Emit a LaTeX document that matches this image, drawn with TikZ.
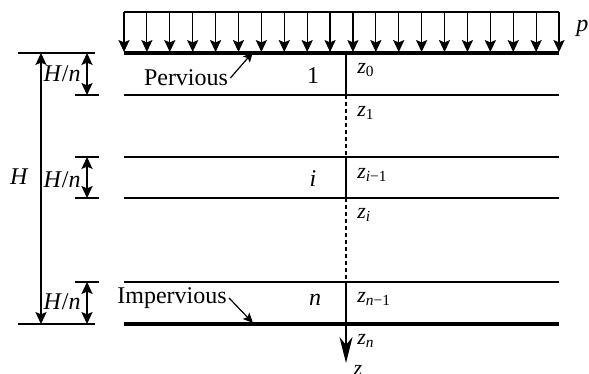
\documentclass[tikz,border=0pt]{standalone}
\usepackage{fontspec}
\setmainfont{Liberation Serif}
\usepackage{tikz}
\usetikzlibrary{arrows.meta,positioning}

\begin{document}
\begin{tikzpicture}[
    x=0.5pt, y=-0.5pt,
    font=\fontsize{12}{14}\selectfont,
    layer/.style={line width=0.6pt},
    surface/.style={line width=1.6pt},
    load/.style={-{Stealth[length=6pt,width=5.6pt,inset=1.2pt]}, line width=0.6pt},
    dim/.style={{Stealth[length=6pt,width=5.6pt,inset=1.2pt]}-{Stealth[length=6pt,width=5.6pt,inset=1.2pt]}, line width=0.6pt},
    pointer/.style={-{Stealth[length=5pt,width=4.5pt,inset=1pt]}, line width=0.6pt},
    gap/.style={line width=0.6pt, dash pattern=on 2pt off 1.5pt},
    axis/.style={-{Stealth[length=13pt,width=6.5pt,inset=4pt]}, line width=0.6pt},
    zlabel/.style={anchor=west, inner sep=0, font=\fontsize{11}{13}\selectfont}
]
\useasboundingbox (0,0) rectangle (589,374);

% Load
\draw[layer] (124,12) -- (559,12);
\foreach \i in {0,...,19}
    \draw[load] ({124+\i*22.895},12) -- ({124+\i*22.895},52);
\node[anchor=west, inner sep=0] (p) at (576,28) {\textit{p}};

% Layers
\draw[surface] (124,53) -- (559,53);
\foreach \y in {95,157,198,282}
    \draw[layer] (124,\y) -- (559,\y);
\draw[surface] (124,324) -- (559,324);

% Dimensions
\draw[layer] (18,53) -- (95,53);
\draw[layer] (18,324) -- (95,324);
\foreach \y in {95,157,198,282}
    \draw[layer] (75,\y) -- (99,\y);
\coordinate (Htop) at (41,53);
\coordinate (Hbot) at (41,324);
\draw[dim] (Htop) -- (Hbot);
\node[anchor=east, inner sep=0] (H) at (29,177) {\textit{H}};

\coordinate (d1a) at (87,53);
\coordinate (d1b) at (87,95);
\coordinate (d2a) at (87,157);
\coordinate (d2b) at (87,198);
\coordinate (d3a) at (87,282);
\coordinate (d3b) at (87,324);
\draw[dim] (d1a) -- (d1b);
\draw[dim] (d2a) -- (d2b);
\draw[dim] (d3a) -- (d3b);
\node[anchor=east, inner sep=0] (Hn1) at (81,74) {\textit{H}/\textit{n}};
\node[anchor=east, inner sep=0] (Hn2) at (81,180) {\textit{H}/\textit{n}};
\node[anchor=east, inner sep=0] (Hn3) at (81,302) {\textit{H}/\textit{n}};

% Axis
\coordinate (z0) at (346,53);
\coordinate (z1) at (346,95);
\coordinate (zim) at (346,157);
\coordinate (zi) at (346,198);
\coordinate (znm) at (346,282);
\coordinate (zend) at (346,363);
\draw[layer] (z0) -- (z1);
\draw[gap] (z1) -- (zim);
\draw[layer] (zim) -- (zi);
\draw[gap] (zi) -- (znm);
\draw[axis] (znm) -- (zend);

\node[zlabel] (lz0) at (357,70) {\textit{z}\textsubscript{0}};
\node[zlabel] (lz1) at (357,113) {\textit{z}\textsubscript{1}};
\node[zlabel] (lzim) at (357,175) {\textit{z}\textsubscript{\textit{i}−1}};
\node[zlabel] (lzi) at (357,215) {\textit{z}\textsubscript{\textit{i}}};
\node[zlabel] (lznm) at (357,299) {\textit{z}\textsubscript{\textit{n}−1}};
\node[zlabel] (lzn) at (357,341) {\textit{z}\textsubscript{\textit{n}}};
\node[anchor=north, inner sep=0, font=\fontsize{11}{13}\selectfont] (zax) at (358,365) {\textit{z}};

% Layer numbers
\node (n1) at (313,76) {1};
\node (ni) at (313,179) {\textit{i}};
\node (nn) at (315,300) {\textit{n}};

% Boundaries
\node[inner sep=1pt] (perv) at (186,78) {Pervious};
\coordinate (pervtip) at (253,52);
\draw[pointer] (perv.east) -- (pervtip);
\node[inner sep=1pt] (imperv) at (172,298) {Impervious};
\coordinate (impervtip) at (253,323);
\draw[pointer] (imperv.east) -- (impervtip);

\end{tikzpicture}
\end{document}
